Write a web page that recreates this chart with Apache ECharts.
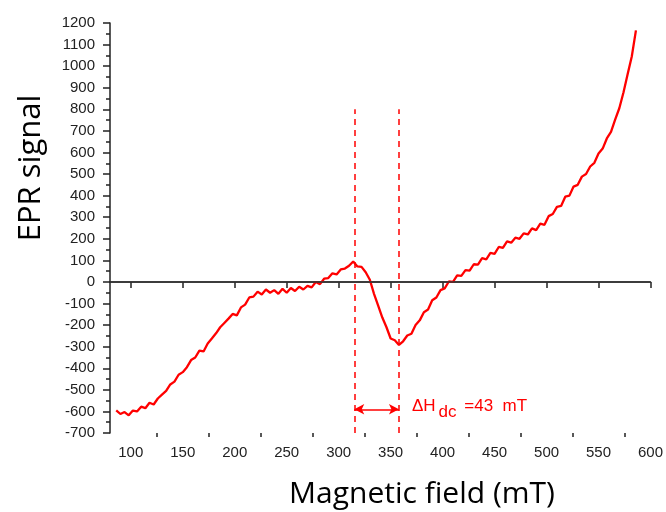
<!DOCTYPE html>
<html>
<head>
<meta charset="utf-8">
<script src="https://cdn.jsdelivr.net/npm/echarts@6/dist/echarts.min.js"></script>
<style>
  html, body { margin: 0; padding: 0; background: #fff; }
  #epr { width: 666px; height: 512px; }
</style>
</head>
<body>
<div id="epr"></div>
<script>
// magnetic field (mT), every 4 mT
let fieldX = [86,90,94,98,102,106,110,114,118,122,126,130,134,138,142,146,150,154,158,162,
    166,170,174,178,182,186,190,194,198,202,206,210,214,218,222,226,230,234,238,242,
    246,250,254,258,262,266,270,274,278,282,286,290,294,298,302,306,310,314,318,322,
    326,330,334,338,342,346,350,354,358,362,366,370,374,378,382,386,390,394,398,402,
    406,410,414,418,422,426,430,434,438,442,446,450,454,458,462,466,470,474,478,482,
    486,490,494,498,502,506,510,514,518,522,526,530,534,538,542,546,550,554,558,562,
    566,570,574,578,582,586];
// EPR signal (a.u.)
let eprY = [-595,-612,-603,-618,-596,-600,-578,-585,-560,-568,-540,-522,-505,-475,-462,-430,-418,-395,-362,-350,
    -318,-322,-285,-262,-238,-210,-190,-170,-148,-155,-118,-105,-72,-68,-45,-58,-35,-50,-38,-55,
    -32,-50,-28,-42,-22,-35,-18,-25,0,-10,15,18,40,35,58,62,75,95,72,70,
    45,10,-55,-110,-165,-210,-262,-270,-292,-275,-248,-240,-200,-178,-140,-128,-85,-72,-38,-30,
    2,0,30,28,55,52,82,80,110,105,135,130,162,158,188,182,205,200,225,220,
    248,240,270,265,305,315,348,352,395,400,442,450,488,500,535,552,595,618,665,695,
    752,805,878,962,1045,1166];

let xMajor = [100,150,200,250,300,350,400,450,500,550,600];
let xMinor = [125,175,225,275,325,375,425,475,525,575];
let dashX = [315, 358];      // peak and trough positions
let dashTop = 800;
let arrowY = -590;
let deltaLabel = '{a|\u0394H}{b|dc}{a| =43  mT}';

let chart = echarts.init(document.getElementById('epr'));

let pts = [];
for (let i = 0; i < fieldX.length; i++) {
    pts.push([fieldX[i], eprY[i]]);
}

let baseX = {
    type: 'value',
    min: 80,
    max: 600,
    position: 'bottom',
    splitLine: { show: false }
};

let option = {
    animation: false,
    grid: { left: 110, right: 11, top: 23, bottom: 79 },
    xAxis: [
        Object.assign({}, baseX, {
            axisLine: { lineStyle: { color: '#222', width: 1.5 } },
            axisTick: { show: true, customValues: xMajor, length: 6, lineStyle: { color: '#222', width: 1.5 } },
            axisLabel: { customValues: xMajor, color: '#222', fontSize: 15, fontFamily: 'Liberation Sans', margin: 12 }
        }),
        Object.assign({}, baseX, {
            axisLine: { show: false },
            axisTick: { show: true, customValues: xMinor, length: 4, lineStyle: { color: '#222', width: 1.5 } },
            axisLabel: { show: false }
        })
    ],
    yAxis: {
        type: 'value',
        min: -700,
        max: 1200,
        interval: 100,
        splitLine: { show: false },
        axisLine: { show: true, lineStyle: { color: '#222', width: 1.5 } },
        axisTick: { show: true, length: 7, lineStyle: { color: '#222', width: 1.5 } },
        minorTick: { show: true, splitNumber: 2, length: 4, lineStyle: { color: '#222', width: 1.5 } },
        axisLabel: {
            color: '#222', fontSize: 15, fontFamily: 'Liberation Sans', margin: 15,
            formatter: function (v) { return String(v); }
        }
    },
    series: [{
        type: 'line',
        data: pts,
        showSymbol: false,
        lineStyle: { color: '#ff0000', width: 2.3 },
        markLine: {
            silent: true,
            symbol: ['none', 'none'],
            data: [
                { yAxis: 0, lineStyle: { color: '#333', width: 1.5, type: 'solid' }, label: { show: false } },
                [{ coord: [dashX[0], -700] }, { coord: [dashX[0], dashTop] }],
                [{ coord: [dashX[1], -700] }, { coord: [dashX[1], dashTop] }],
                [
                    { coord: [dashX[0], arrowY], symbol: 'arrow', symbolSize: [8, 10],
                      lineStyle: { type: 'solid', width: 1.5 },
                      label: {
                          show: true, position: 'end', distance: 13,
                          formatter: deltaLabel,
                          rich: {
                              a: { color: '#ff0000', fontSize: 17, fontFamily: 'Liberation Sans', padding: [0, 0, 6, 0] },
                              b: { color: '#ff0000', fontSize: 17, fontFamily: 'Liberation Sans', padding: [6, 3, 0, 3] }
                          }
                      } },
                    { coord: [dashX[1], arrowY], symbol: 'arrow', symbolSize: [8, 10] }
                ]
            ],
            lineStyle: { color: '#ff0000', width: 1.5, type: [6, 5] },
            label: { show: false }
        }
    }],
    graphic: [
        {
            type: 'text', x: 31, y: 168, rotation: Math.PI / 2,
            style: { text: 'EPR signal', font: '31px "Open Sans"', fill: '#000', align: 'center', verticalAlign: 'middle' }
        },
        {
            type: 'text', x: 422, y: 494,
            style: { text: 'Magnetic field (mT)', font: '30px "Open Sans"', fill: '#000', align: 'center', verticalAlign: 'middle' }
        }
    ]
};
chart.setOption(option);
</script>
</body>
</html>
